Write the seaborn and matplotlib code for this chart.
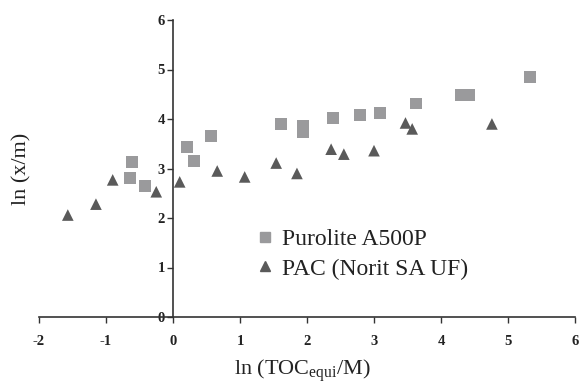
import matplotlib
matplotlib.use("Agg")
import matplotlib.pyplot as plt
import seaborn as sns
import pandas as pd
from matplotlib.lines import Line2D

# Data
puro_x = [-0.61, -0.64, -0.42, 0.21, 0.31, 0.57, 1.61, 1.94, 1.94, 2.39, 2.79, 3.09, 3.63, 4.30, 4.42, 5.33]
puro_y = [3.13, 2.81, 2.65, 3.43, 3.15, 3.66, 3.90, 3.86, 3.74, 4.02, 4.08, 4.12, 4.31, 4.48, 4.48, 4.85]
pac_x = [-1.57, -1.15, -0.90, -0.25, 0.10, 0.66, 1.07, 1.54, 1.85, 2.36, 2.55, 3.00, 3.47, 3.57, 4.76]
pac_y = [2.06, 2.28, 2.77, 2.53, 2.73, 2.95, 2.83, 3.11, 2.90, 3.39, 3.29, 3.36, 3.92, 3.80, 3.90]
series_names = ["Purolite A500P", "PAC (Norit SA UF)"]
x_ticks = [-2, -1, 0, 1, 2, 3, 4, 5, 6]
y_ticks = [0, 1, 2, 3, 4, 5, 6]

df = pd.DataFrame({
    "x": puro_x + pac_x,
    "y": puro_y + pac_y,
    "series": [series_names[0]] * len(puro_x) + [series_names[1]] * len(pac_x),
})

sns.set_style("white")
plt.rcParams["font.family"] = ["Liberation Serif", "DejaVu Serif"]
plt.rcParams["mathtext.fontset"] = "custom"
plt.rcParams["mathtext.rm"] = "Liberation Serif"
plt.rcParams["mathtext.it"] = "Liberation Serif:italic"
plt.rcParams["mathtext.bf"] = "Liberation Serif:bold"

fig = plt.figure(figsize=(5.81, 3.84), dpi=100)
ax = fig.add_axes([39 / 581, 67 / 384, 536 / 581, 297 / 384])

palette = {series_names[0]: "#9a9a9c", series_names[1]: "#5a5a5a"}
markers = {series_names[0]: "s", series_names[1]: "^"}
sns.scatterplot(data=df, x="x", y="y", hue="series", style="series",
                palette=palette, markers=markers, s=70, linewidth=0,
                ax=ax, legend=False)

ax.set_xlim(-2, 6)
ax.set_ylim(0, 6)
ax.set_xticks(x_ticks)
ax.set_yticks(y_ticks)
ax.set_xticklabels([str(t) for t in x_ticks])
ax.set_yticklabels([str(t) for t in y_ticks])

for s in ["top", "right"]:
    ax.spines[s].set_visible(False)
ax.spines["left"].set_position(("data", 0))
ax.spines["bottom"].set_position(("data", 0))
for s in ["left", "bottom"]:
    ax.spines[s].set_color("#333333")
    ax.spines[s].set_linewidth(1.2)
ax.tick_params(axis="both", direction="out", length=4, width=1, color="#333333",
               left=True, bottom=True, labelcolor="#222222", labelsize=10.5)
ax.tick_params(axis="x", pad=9)
ax.tick_params(axis="y", pad=2)
for lab in ax.get_xticklabels() + ax.get_yticklabels():
    lab.set_fontweight("bold")

ax.set_xlabel("")
ax.set_ylabel("")
fig.text(0.52, 0.0, r"ln (TOC$_{\mathrm{equi}}$/M)", ha="center", va="bottom", fontsize=16, color="#222222")
fig.text(0.037, 0.56, "ln (x/m)", rotation=90, ha="center", va="center", fontsize=16, color="#222222")

# legend
handles = [Line2D([], [], marker="s", linestyle="", color=palette[series_names[0]], markersize=6.5),
           Line2D([], [], marker="^", linestyle="", color=palette[series_names[1]], markersize=6.5)]
ax.legend(handles, series_names, loc="upper left", bbox_to_anchor=(0.382, 0.33),
          frameon=False, fontsize=17, handletextpad=0.2, labelspacing=0.35,
          handlelength=1.0, borderaxespad=0, labelcolor="#222222")

fig.savefig("out.png", dpi=100)
